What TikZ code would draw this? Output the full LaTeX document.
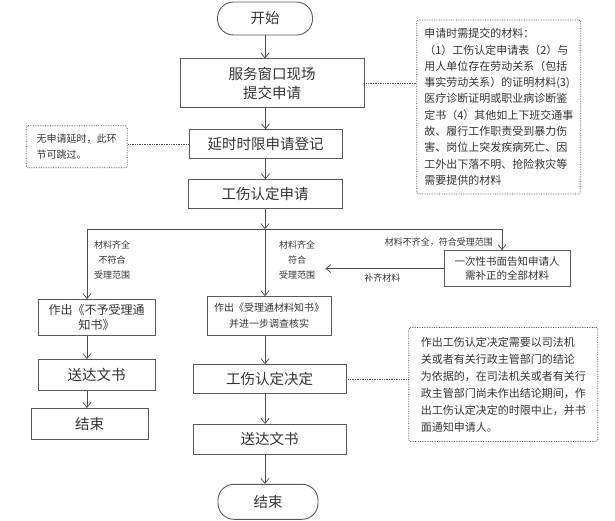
\documentclass[tikz,border=0pt]{standalone}
\usepackage{fontspec}
\setmainfont{Noto Sans CJK SC}
\usepackage{tikz}
\usepackage{xcolor}
\usetikzlibrary{arrows.meta, positioning}

\begin{document}
\begin{tikzpicture}[
    node distance=20pt,
    box/.style={rectangle, draw=black!65, line width=0.9pt, align=center, inner sep=0pt, text=black!80},
    term/.style={box, rounded corners=16pt},
    big/.style={font=\fontsize{14.5pt}{19pt}\selectfont},
    note/.style={rectangle, draw=black!70, densely dotted, line width=0.7pt, rounded corners=1.5pt, align=left, inner sep=0pt, text=black!80},
    lbl/.style={align=center, inner sep=0pt, text=black!80, font=\fontsize{9pt}{15pt}\selectfont},
    wire/.style={draw=black!70, line width=0.7pt},
    arrow/.style={wire, -{Straight Barb[length=5pt, width=8pt]}},
    link/.style={wire, densely dotted}
]
    \useasboundingbox (0,0) rectangle (615pt,-520pt);

    % Main column
    \node[term, big, minimum width=95pt, minimum height=33pt] (start) at (265pt,-18.5pt) {开始};
    \node[box, big, minimum width=184pt, minimum height=49pt, below=23pt of start, xshift=7pt] (submit) {服务窗口现场\\提交申请};
    \node[box, big, minimum width=153pt, minimum height=29pt, below=21pt of submit, xshift=-6.5pt] (delay) {延时时限申请登记};
    \node[box, big, minimum width=154pt, minimum height=29pt, below=20pt of delay, xshift=-0.5pt] (apply) {工伤认定申请};

    % Branch points
    \coordinate[below=20pt of apply] (split);
    \coordinate[left=178pt of split] (leftturn);
    \coordinate[right=237pt of split] (rightturn);

    % Left branch
    \node[box, minimum width=117pt, minimum height=36pt, below=70pt of leftturn, xshift=9.5pt, font=\fontsize{12pt}{15pt}\selectfont] (reject) {作出《不予受理通\\知书》};
    \node[box, big, minimum width=117pt, minimum height=31pt, below=23pt of reject] (deliverL) {送达文书};
    \node[box, big, minimum width=117pt, minimum height=31pt, below=17pt of deliverL, xshift=-7pt] (endL) {结束};

    % Middle branch
    \node[box, minimum width=124pt, minimum height=39pt, below=67pt of split, xshift=4pt, font=\fontsize{10pt}{16pt}\selectfont] (accept) {作出《受理通材料知书》\\并进一步调查核实};
    \node[box, big, minimum width=153pt, minimum height=29pt, below=28pt of accept, xshift=0.5pt] (decide) {工伤认定决定};
    \node[box, big, minimum width=153pt, minimum height=30pt, below=30pt of decide] (deliverC) {送达文书};
    \node[term, big, minimum width=100pt, minimum height=35pt, below=29pt of deliverC, xshift=-1.5pt] (finish) {结束};

    % Right branch
    \node[box, minimum width=126pt, minimum height=36pt, below=21pt of rightturn, xshift=5pt, font=\fontsize{10.5pt}{14pt}\selectfont] (supp) {一次性书面告知申请人\\需补正的全部材料};

    % Branch labels
    \node[lbl, below right=11pt and 7pt of leftturn] (noLabel) {材料齐全\\不符合\\受理范围};
    \node[lbl, below right=11pt and 14pt of split] (okLabel) {材料齐全\\符合\\受理范围};
    \node[lbl, below left=8pt and 9pt of rightturn] (lackLabel) {材料不齐全，符合受理范围};
    \node[lbl, below left=5pt and 43pt of supp.west] (fillLabel) {补齐材料};
    \coordinate[right=10pt of okLabel.east] (backend);

    % Notes
    \node[note, minimum width=164pt, minimum height=174pt, right=52pt of submit, yshift=-23.5pt, font=\fontsize{11pt}{16.3pt}\selectfont] (formsNote) {申请时需提交的材料：\\（1）工伤认定申请表（2）与\\用人单位存在劳动关系（包括\\事实劳动关系）的证明材料(3)\\医疗诊断证明或职业病诊断鉴\\定书（4）其他如上下班交通事\\故、履行工作职责受到暴力伤\\害、岗位上突发疾病死亡、因\\工外出下落不明、抢险救灾等\\需要提供的材料};
    \node[note, minimum width=101pt, minimum height=42pt, left=61pt of delay, yshift=-2.5pt, font=\fontsize{10pt}{16pt}\selectfont] (skipNote) {无申请延时，此环\\节可跳过。};
    \node[note, minimum width=189pt, minimum height=114pt, right=62pt of decide, yshift=-5.5pt, font=\fontsize{11pt}{17pt}\selectfont] (limitNote) {作出工伤认定决定需要以司法机\\关或者有关行政主管部门的结论\\为依据的，在司法机关或者有关行\\政主管部门尚未作出结论期间，作\\出工伤认定决定的时限中止，并书\\面通知申请人。};

    % Arrows
    \draw[arrow] (start.south) -- (start.south |- submit.north);
    \draw[arrow] (delay.north |- submit.south) -- (delay.north);
    \draw[arrow] (delay.south) -- (delay.south |- apply.north);
    \draw[arrow] (apply.south) -- (split);
    \draw[wire] (leftturn) -- (rightturn);

    \draw[arrow] (leftturn) -- (leftturn |- reject.north);
    \draw[arrow] (leftturn |- reject.south) -- (leftturn |- deliverL.north);
    \draw[arrow] (leftturn |- deliverL.south) -- (leftturn |- endL.north);

    \draw[arrow] (split) -- (split |- accept.north);
    \draw[arrow] (split |- accept.south) -- (split |- decide.north);
    \draw[arrow] (split |- decide.south) -- (split |- deliverC.north);
    \draw[arrow] (split |- deliverC.south) -- (split |- finish.north);

    \draw[arrow] (rightturn) -- (rightturn |- supp.north);
    \draw[arrow] (supp.west) -- (backend |- supp.west);

    % Note links
    \draw[link] (submit.east) -- (submit.east -| formsNote.west);
    \draw[link] (delay.west) -- (delay.west -| skipNote.east);
    \draw[link] (decide.east) -- (decide.east -| limitNote.west);

\end{tikzpicture}
\end{document}
